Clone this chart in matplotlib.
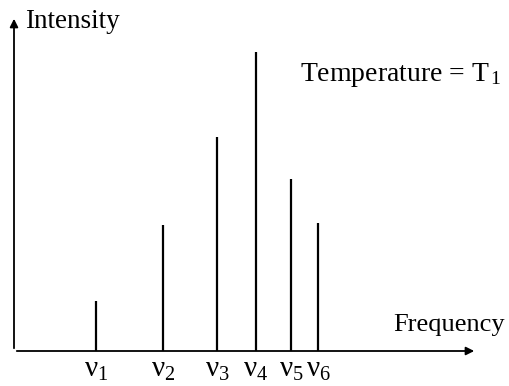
import matplotlib.pyplot as plt

# line spectrum data (arbitrary units)
frequencies = [82, 149, 203, 242, 277, 304]
intensities = [50, 126, 214, 299, 172, 128]
tick_labels = ['ν$_1$', 'ν$_2$', 'ν$_3$', 'ν$_4$', 'ν$_5$', 'ν$_6$']

plt.rcParams['font.family'] = ['Liberation Serif', 'DejaVu Serif']
plt.rcParams['mathtext.fontset'] = 'custom'
plt.rcParams['mathtext.rm'] = 'Liberation Serif'
plt.rcParams['mathtext.it'] = 'Liberation Serif'
plt.rcParams['mathtext.default'] = 'rm'

fig = plt.figure(figsize=(5.10, 3.86), dpi=100)
ax = fig.add_axes([14/510, 35/386, 463/510, 335/386])
ax.set_xlim(0, 463)
ax.set_ylim(0, 335)

ax.vlines(frequencies, 0, intensities, color='black', lw=1.6)

for s in ax.spines.values():
    s.set_visible(False)
ax.set_yticks([])
ax.set_xticks(frequencies)
ax.set_xticklabels(tick_labels, fontsize=21)
ax.tick_params(axis='x', length=0, pad=4)

# axes with arrow heads
arrow = dict(arrowstyle='-|>', color='black', lw=1.3, mutation_scale=12)
ax.annotate('', xy=(1.0, 0), xytext=(0, 0), xycoords='axes fraction',
            arrowprops=arrow, annotation_clip=False)
ax.annotate('', xy=(0, 1.0), xytext=(0, 0), xycoords='axes fraction',
            arrowprops=arrow, annotation_clip=False)

ax.text(11, 329, 'Intensity', fontsize=19.5, va='center', ha='left')
ax.text(379, 26, 'Frequency', fontsize=19, va='center', ha='left')
ax.text(286, 276, 'Temperature = T$_{\\,1}$', fontsize=20, va='center', ha='left')

fig.savefig('out.png', dpi=100)
